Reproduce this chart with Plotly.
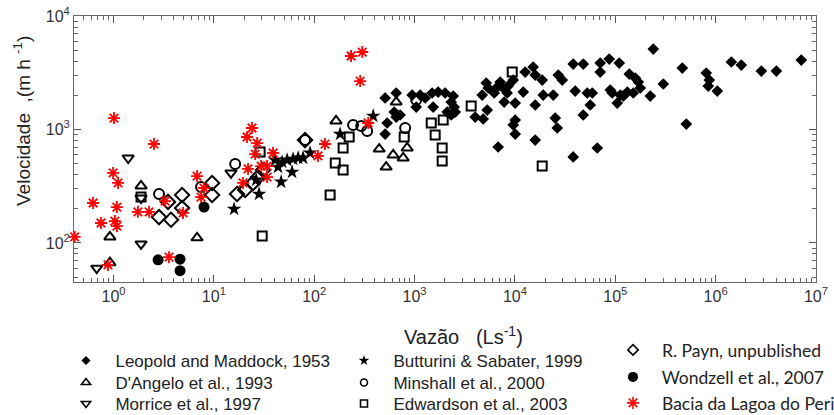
import plotly.graph_objects as go

# ---------------- data (Q in L/s, V in m/h) ----------------
leopold_q = [718, 1038, 1137, 1276, 1496, 1532, 1718, 2018, 2427, 2317,
             2483, 2541, 2317, 2113, 509, 656, 627, 656, 533, 509,
             946, 4720, 5176, 5420, 6223, 6668, 7129, 7640, 8375, 7816,
             8570, 9616, 4018, 4830, 5297, 10070, 10070, 9616, 10070, 12650,
             15210, 15930, 18710, 12100, 19140, 15930, 15930, 24100, 25230, 26420,
             27040, 29650, 6810, 39900, 38100, 47970, 52600, 59000, 56330, 47970,
             38100, 70800, 70800, 87100, 109600, 89100, 93300, 104700, 112200, 66200,
             138000, 158500, 169600, 177600, 151300, 131800, 120300, 223400, 239300, 301300,
             465600, 510500, 807000, 865000, 845000, 1040000, 1435000, 1804000, 2857000, 4031000,
             7147000]
leopold_v = [1343, 1578, 2013, 1896, 2099, 1578, 2140, 2099, 1972, 1746,
             1578, 1426, 1343, 1426, 1896, 2099, 1426, 1288, 1141, 912,
             2013, 2013, 2570, 2323, 2099, 2366, 2623, 2323, 2099, 1746,
             2416, 2729, 1288, 1238, 1485, 1710, 1213, 1097, 912, 3211,
             3557, 3020, 2729, 2140, 2013, 1644, 807, 2013, 1262, 1031,
             3020, 2729, 701, 2183, 3776, 3776, 2099, 2099, 1644, 1343,
             573, 3853, 3211, 4178, 3853, 2228, 2099, 1710, 2013, 687,
             3083, 2844, 2623, 2323, 2099, 2140, 1972, 1972, 5117, 2518,
             3483, 1117, 3148, 2729, 2416, 2183, 3936, 3701, 3273, 3273,
             4096]

dangelo_q = [1.88, 0.92, 6.8, 0.92, 165, 656, 444, 612, 521, 844, 770]
dangelo_v = [318, 113, 111, 67, 1189, 1746, 673, 596, 467, 687, 561]

morrice_q = [1.40, 1.88, 1.88, 0.68, 14.8]
morrice_v = [561, 249, 98, 60, 414]

butturini_q = [15.9, 28.2, 46.8, 60.2, 26.4, 43.6, 47.9, 53.7, 61.6, 69.1, 77.5, 91, 181, 387, 40.7]
butturini_v = [199, 270, 345, 422, 359, 467, 517, 539, 549, 561, 561, 621, 912, 1315, 539]

minshall_q = [2.84, 16.3, 7.45, 81, 244, 294, 337, 806, 1038]
minshall_v = [270, 497, 311, 807, 1097, 1074, 970, 1031, 1820]

edwardson_q = [1.88, 30.3, 28.9, 144, 162, 194, 194, 223, 788, 1466, 1929, 1604, 1884, 1884, 3665, 9400, 18700]
edwardson_v = [254, 115, 634, 265, 507, 440, 687, 859, 859, 1141, 1213, 895, 687, 528, 1610, 3211, 476]

payn_q = [2.84, 3.74, 3.49, 4.82, 4.82, 9.6, 9.6, 17.0, 20.5, 24.6, 27.6, 30.9, 81]
payn_v = [169, 160, 230, 265, 203, 338, 265, 270, 293, 338, 381, 440, 807]

wondzell_q = [2.78, 4.6, 4.6, 7.98]
wondzell_v = [71, 72, 57, 207]

peri_q = [0.41, 1.01, 0.625, 0.75, 0.99, 1.11, 1.08, 1.03, 1.08, 0.88, 1.11, 1.75, 2.26, 2.53,
          3.26, 3.57, 4.93, 6.8, 7.45, 7.98, 19.5, 21.4, 21.9, 24.0, 25.8, 27.0, 29.6, 33.9,
          33.9, 38.9, 109, 128, 233, 301, 287, 345]
peri_v = [113, 1262, 225, 150, 414, 338, 207, 156, 141, 64, 45, 188, 188, 745,
          234, 75, 184, 389, 254, 305, 338, 859, 449, 1031, 608, 760, 476, 476,
          381, 621, 585, 745, 4446, 4820, 2673, 1141]

x_exponents = [0, 1, 2, 3, 4, 5, 6, 7]
y_exponents = [2, 3, 4]
x_tickvals = [10 ** e for e in x_exponents]
x_ticktext = [f"10<sup>{e}</sup>" for e in x_exponents]
y_tickvals = [10 ** e for e in y_exponents]
y_ticktext = [f"10<sup>{e}</sup>" for e in y_exponents]
x_minor = [m * 10 ** e for e in range(-1, 7) for m in range(2, 10)]
y_minor = [m * 10 ** e for e in range(1, 4) for m in range(2, 10)]

W, H = 834, 415
ML, MR, MT, MB = 74, 18, 16, 133
ARIAL = "Liberation Sans, Arial, sans-serif"
CAL = "Lato, Open Sans, sans-serif"

NB = "\u00a0\u00a0"
series = [
    # name, q, v, symbol, size, line width, color, legend marker size, legend (x px, top px), font, size
    ("Leopold and Maddock, 1953", leopold_q, leopold_v, "diamond", 9, 0, "black", 7, (66, 343), ARIAL, 17),
    ("D'Angelo et al., 1993", dangelo_q, dangelo_v, "triangle-up-open", 10, 2, "black", 8, (66, 365), ARIAL, 17),
    ("Morrice et al., 1997", morrice_q, morrice_v, "triangle-down-open", 10, 2, "black", 8, (66, 386), ARIAL, 17),
    ("Butturini & Sabater, 1999", butturini_q, butturini_v, "star", 11, 0, "black", 8, (344, 343), ARIAL, 17),
    ("Minshall et al., 2000", minshall_q, minshall_v, "circle-open", 10, 2, "black", 7, (344, 365), ARIAL, 17),
    ("Edwardson et al., 2003", edwardson_q, edwardson_v, "square-open", 9, 2, "black", 7, (344, 386), ARIAL, 17),
    ("R. Payn, unpublished", payn_q, payn_v, "diamond-open", 11, 2, "black", 8, (613, 332), CAL, 17.5),
    ("Wondzell et al., 2007", wondzell_q, wondzell_v, "circle", 11, 0, "black", 10, (613, 359), CAL, 17.5),
    ("Bacia da Lagoa do Peri", peri_q, peri_v, "asterisk-open", 10, 1.8, "red", 10, (613, 385), CAL, 17.5),
]

fig = go.Figure()
legends = {}
for i, (name, q, v, sym, size, lw, col, lsize, (lx, ltop), fam, fsz) in enumerate(series):
    fig.add_trace(go.Scatter(
        x=q, y=v, mode="markers", name=name, showlegend=False,
        cliponaxis=False,
        marker=dict(symbol=sym, size=size, color=col,
                    line=dict(width=lw, color=col)),
    ))
    key = "legend" if i == 0 else f"legend{i+1}"
    fig.add_trace(go.Scatter(
        x=[None], y=[None], mode="markers", name=NB + name, showlegend=True,
        legend=key,
        marker=dict(symbol=sym, size=lsize, color=col,
                    line=dict(width=min(lw, 1.6) if lw else 0, color=col)),
    ))
    legends[key] = dict(x=lx / W, y=1 - ltop / H, xref="container", yref="container",
                        xanchor="left", yanchor="top", bgcolor="rgba(0,0,0,0)",
                        borderwidth=0, font=dict(family=fam, size=fsz, color="#222"))

axis_common = dict(
    type="log", showgrid=False, zeroline=False, showline=True, linecolor="#666", linewidth=1,
    mirror="ticks", ticks="inside", ticklen=7, tickcolor="#555", tickwidth=1,
    tickfont=dict(family=ARIAL, size=16, color="#333"), tickmode="array",
)

fig.update_layout(
    width=W, height=H,
    margin=dict(l=ML, r=MR, t=MT, b=MB, autoexpand=False),
    paper_bgcolor="white", plot_bgcolor="white",
    xaxis=dict(range=[-0.394, 7.0005], tickvals=x_tickvals, ticktext=x_ticktext,
               minor=dict(ticks="inside", ticklen=4, tickcolor="#666", tickvals=x_minor, showgrid=False),
               **axis_common),
    yaxis=dict(range=[1.656, 4.0005], tickvals=y_tickvals, ticktext=y_ticktext,
               minor=dict(ticks="inside", ticklen=4, tickcolor="#666", tickvals=y_minor, showgrid=False),
               **axis_common),
    **legends,
    annotations=[
        dict(text="Vazão \u00a0 (Ls<sup>-1</sup>)", x=(463 - ML) / (W - ML - MR), y=(H - MB - 335) / (H - MT - MB),
             xref="paper", yref="paper", xanchor="center", yanchor="middle", showarrow=False,
             font=dict(family="Liberation Sans Narrow, Arial Narrow, sans-serif", size=20, color="#222")),
        dict(text="Velocidade \u00a0,(m h <sup>-1</sup>)", x=(22 - ML) / (W - ML - MR), y=(H - MB - 121) / (H - MT - MB),
             xref="paper", yref="paper", xanchor="center", yanchor="middle", showarrow=False, textangle=-90,
             font=dict(family=ARIAL, size=19, color="#222")),
    ],
)

fig.write_html("out.html")
